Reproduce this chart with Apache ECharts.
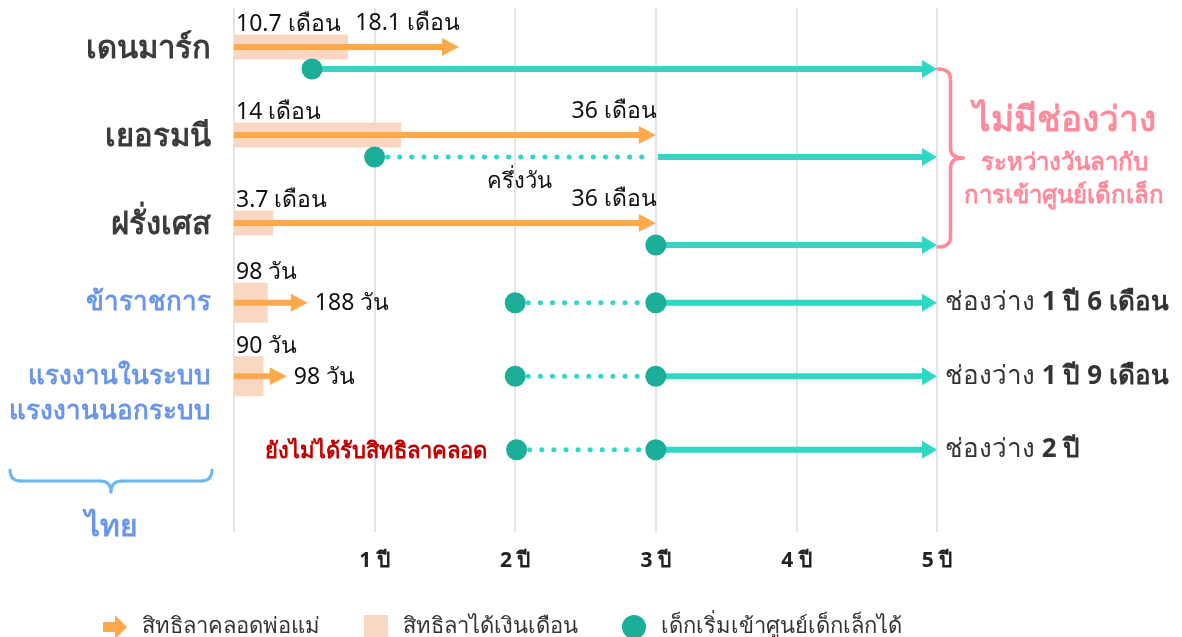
<!DOCTYPE html>
<html><head><meta charset="utf-8">
<script src="https://cdn.jsdelivr.net/npm/echarts@6/dist/echarts.min.js"></script>
<style>html,body{margin:0;padding:0;background:#fff}#c{width:1182px;height:637px}</style>
</head><body><div id="c"></div>
<script>
// ---------- data ----------
const tickUnit = 'ปี';
const endYear = 5;

const countries = ['เดนมาร์ก', 'เยอรมนี', 'ฝรั่งเศส'];
const paidLeave = [0.81, 1.19, 0.28];          // years (paid leave)
const parentalLeave = [1.6, 3, 3];             // years (total parental leave)
const careStart = [0.555, 1, 3];               // child can enter childcare
const fullDayStart = [0.555, 3, 3];            // full-day childcare
const paidLabels = ['10.7 เดือน', '14 เดือน', '3.7 เดือน'];
const leaveLabels = ['18.1 เดือน', '36 เดือน', '36 เดือน'];
const partLabels = ['', 'ครึ่งวัน', ''];

const thaiGroups = ['ข้าราชการ', 'แรงงานในระบบ\nแรงงานนอกระบบ', ''];
const thPaid = [0.24, 0.21, null];
const thLeave = [0.525, 0.375, null];
const thCareStart = [2, 2, 2.01];
const thFullDay = [3, 3, 3.0];
const thPaidLabels = ['98 วัน', '90 วัน', ''];
const thLeaveLabels = ['188 วัน', '98 วัน', ''];
const thNotes = ['', '', 'ยังไม่ได้รับสิทธิลาคลอด'];
const thGaps = ['1 ปี 6 เดือน', '1 ปี 9 เดือน', '2 ปี'];

const nameLeave = 'สิทธิลาคลอดพ่อแม่';
const namePaid = 'สิทธิลาได้เงินเดือน';
const nameCare = 'เด็กเริ่มเข้าศูนย์เด็กเล็กได้';

// ---------- style ----------
const FONT = "'Noto Sans', 'DejaVu Sans', sans-serif";
const C = {leave:'#FFA94D', paid:'#F9D7C3', line:'#2ED8C5', dot:'#1DAE9A', text:'#111', head:'#3B3B3B',
           thai:'#6A96EA', pink:'#FF8A9B', red:'#C00000', brace:'#6DB6F0', grid:'#DCDCDC'};

const groups = [
  {names: countries, paid: paidLeave, leave: parentalLeave, care: careStart, full: fullDayStart,
   paidLbl: paidLabels, leaveLbl: leaveLabels, partLbl: partLabels, notes: [], gaps: [], both: false,
   L: {lane: -11, care: 11, barH: 25, leaveLabel: 'above', rowSize: 31, rowColor: C.head, rowDy: 2}},
  {names: thaiGroups, paid: thPaid, leave: thLeave, care: thCareStart, full: thFullDay,
   paidLbl: thPaidLabels, leaveLbl: thLeaveLabels, partLbl: [], notes: thNotes, gaps: thGaps, both: true,
   L: {lane: 0, care: 0, barH: 40, leaveLabel: 'right', rowSize: 26, rowColor: C.thai, rowDy: 0}}
];

const series = [];
groups.forEach((g, gi) => {
  const L = g.L;
  const idx = g.names.map((_, i) => i);
  // paid leave bars
  series.push({
    type: 'custom', name: namePaid, xAxisIndex: gi, yAxisIndex: gi, itemStyle: {color: C.paid}, silent: true,
    data: idx.filter(i => g.paid[i] != null).map(i => [0, g.paid[i], i]),
    encode: {x: [0, 1], y: 2},
    renderItem: (p, api) => {
      const r = api.value(2);
      const s = api.coord([api.value(0), r]), e = api.coord([api.value(1), r]);
      const y = s[1] + L.lane;
      return {type: 'group', children: [
        {type: 'rect', shape: {x: s[0], y: y - L.barH / 2, width: e[0] - s[0], height: L.barH}, style: {fill: C.paid}},
        {type: 'text', x: s[0] + 2, y: y - L.barH / 2 - 10,
         style: {text: g.paidLbl[r], fontSize: 23, fontFamily: FONT, fill: C.text, align: 'left', verticalAlign: 'middle'}}
      ]};
    }
  });
  // parental leave arrows
  series.push({
    type: 'custom', name: nameLeave, xAxisIndex: gi, yAxisIndex: gi, itemStyle: {color: C.leave}, silent: true,
    data: idx.filter(i => g.leave[i] != null).map(i => [0, g.leave[i], i]),
    encode: {x: [0, 1], y: 2},
    renderItem: (p, api) => {
      const r = api.value(2);
      const s = api.coord([api.value(0), r]), e = api.coord([api.value(1), r]);
      const y = s[1] + L.lane, hl = 17, hw = 18;
      const lab = L.leaveLabel === 'above'
        ? {x: e[0] + 1, y: y - 24, align: 'right'}
        : {x: e[0] + 7, y: y + 1, align: 'left'};
      return {type: 'group', children: [
        {type: 'line', shape: {x1: s[0], y1: y, x2: e[0] - hl + 1, y2: y}, style: {stroke: C.leave, lineWidth: 6}},
        {type: 'polygon', shape: {points: [[e[0] - hl, y - hw / 2], [e[0], y], [e[0] - hl, y + hw / 2]]}, style: {fill: C.leave}},
        {type: 'text', x: lab.x, y: lab.y,
         style: {text: g.leaveLbl[r], fontSize: 23, fontFamily: FONT, fill: C.text, align: lab.align, verticalAlign: 'middle'}}
      ]};
    }
  });
  // childcare lines
  series.push({
    type: 'custom', xAxisIndex: gi, yAxisIndex: gi, silent: true,
    data: idx.map(i => [g.care[i], g.full[i], endYear, i]),
    encode: {x: [0, 1, 2], y: 3},
    renderItem: (p, api) => {
      const r = api.value(3);
      const a = api.coord([api.value(0), r]), b = api.coord([api.value(1), r]), c = api.coord([api.value(2), r]);
      const y = a[1] + L.care;
      const ch = [];
      if (b[0] - a[0] > 2) {
        ch.push({type: 'line', shape: {x1: a[0] + 13, y1: y, x2: b[0] - 6, y2: y},
                 style: {stroke: C.line, lineWidth: 5, lineCap: 'round', lineDash: [0.1, 12]}});
      }
      ch.push({type: 'line', shape: {x1: b[0] + 2, y1: y, x2: c[0] - 13, y2: y}, style: {stroke: C.line, lineWidth: 6}});
      ch.push({type: 'polygon', shape: {points: [[c[0] - 15, y - 9], [c[0], y], [c[0] - 15, y + 9]]}, style: {fill: C.line}});
      if (g.partLbl[r]) {
        ch.push({type: 'text', x: (a[0] + b[0]) / 2 + 4, y: y + 25,
                 style: {text: g.partLbl[r], fontSize: 22, fontFamily: FONT, fill: C.text, align: 'center', verticalAlign: 'middle'}});
      }
      if (g.gaps[r]) {
        ch.push({type: 'text', x: c[0] + 8, y: y,
                 style: {text: '{a|ช่องว่าง }{b|' + g.gaps[r] + '}', align: 'left', verticalAlign: 'middle',
                         rich: {a: {fontSize: 26, fontFamily: FONT, fill: '#333', fontWeight: 'normal'},
                                b: {fontSize: 26, fontFamily: FONT, fill: '#333', fontWeight: 'bold'}}}});
      }
      if (g.notes[r]) {
        ch.push({type: 'text', x: a[0] - 30, y: y + 2,
                 style: {text: g.notes[r], fontSize: 22, fontWeight: 'bold', fontFamily: FONT, fill: C.red, align: 'right', verticalAlign: 'middle'}});
      }
      return {type: 'group', children: ch};
    }
  });
  // childcare start circles
  const pts = [];
  idx.forEach(i => { pts.push([g.care[i], i]); if (g.both) pts.push([g.full[i], i]); });
  series.push({
    type: 'scatter', name: nameCare, xAxisIndex: gi, yAxisIndex: gi, symbol: 'circle', symbolSize: 21,
    symbolOffset: [0, L.care], itemStyle: {color: C.dot, opacity: 1}, silent: true, data: pts, z: 5
  });
  // row labels
  series.push({
    type: 'custom', xAxisIndex: gi, yAxisIndex: gi, silent: true,
    data: idx.filter(i => g.names[i]).map(i => [0, i]),
    encode: {x: 0, y: 1},
    renderItem: (p, api) => {
      const r = api.value(1);
      const q = api.coord([0, r]);
      const lh = L.rowSize + 9;
      return {type: 'text', x: q[0] - 23, y: q[1] + L.lane + L.rowDy - lh / 2,
              style: {text: g.names[r], fontSize: L.rowSize, fontWeight: 'bold', fontFamily: FONT, fill: L.rowColor,
                      align: 'right', verticalAlign: 'top', lineHeight: lh}};
    }
  });
});

const xAxisBase = {type: 'value', min: 0, max: endYear, interval: 1,
  axisLine: {show: false}, axisTick: {show: false},
  splitLine: {show: true, lineStyle: {color: C.grid, width: 1.5}}};

const option = {
  animation: false,
  backgroundColor: '#fff',
  textStyle: {fontFamily: FONT},
  grid: [
    {left: 234, right: 245, top: 8, height: 257},
    {left: 234, right: 245, top: 265, height: 267}
  ],
  xAxis: [
    Object.assign({}, xAxisBase, {gridIndex: 0, axisLabel: {show: false}}),
    Object.assign({}, xAxisBase, {gridIndex: 1, axisLabel: {show: true, margin: 19, fontSize: 21, fontWeight: 'bold', color: '#222',
      fontFamily: FONT, formatter: v => v === 0 ? '' : v + ' ' + tickUnit}})
  ],
  yAxis: [
    {type: 'value', gridIndex: 0, inverse: true, min: -0.568, max: 2.352, show: false},
    {type: 'value', gridIndex: 1, inverse: true, min: -0.514, max: 3.119, show: false}
  ],
  legend: {
    left: 98, top: 610, itemWidth: 24, itemHeight: 24, itemGap: 44, selectedMode: false,
    textStyle: {fontSize: 22, color: '#333', fontFamily: FONT, padding: [0, 0, 0, 10]},
    data: [
      {name: nameLeave, icon: 'path://M0,7 L12,7 L12,0 L24,12 L12,24 L12,17 L0,17 Z'},
      {name: namePaid, icon: 'rect'},
      {name: nameCare, icon: 'circle'}
    ]
  },
  series: series
};

const chart = echarts.init(document.getElementById('c'), null, {renderer: 'canvas'});
chart.setOption(option);

// ---------- annotations ----------
function seg(x1, y1, x2, y2, color, w) {
  return {type: 'line', silent: true, shape: {x1, y1, x2, y2}, style: {stroke: color, lineWidth: w, lineCap: 'round'}};
}
function quad(x1, y1, cx, cy, x2, y2, color, w) {
  return {type: 'bezierCurve', silent: true, shape: {x1, y1, cpx1: cx, cpy1: cy, x2, y2}, style: {stroke: color, lineWidth: w, fill: null, lineCap: 'round'}};
}
const topP = chart.convertToPixel({gridIndex: 0}, [endYear, 0]);
const botP = chart.convertToPixel({gridIndex: 0}, [endYear, countries.length - 1]);
const x0 = topP[0] + 1, y1 = topP[1] + groups[0].L.care, y2 = botP[1] + groups[0].L.care + 2;
const ym = (y1 + y2) / 2, d = 25, h = d / 2, rr = 10, pc = C.pink, pw = 3.5;
const pinkBrace = [
  quad(x0, y1, x0 + h, y1, x0 + h, y1 + rr, pc, pw),
  seg(x0 + h, y1 + rr, x0 + h, ym - rr, pc, pw),
  quad(x0 + h, ym - rr, x0 + h, ym, x0 + d, ym, pc, pw),
  quad(x0 + d, ym, x0 + h, ym, x0 + h, ym + rr, pc, pw),
  seg(x0 + h, ym + rr, x0 + h, y2 - rr, pc, pw),
  quad(x0 + h, y2 - rr, x0 + h, y2, x0, y2, pc, pw)
];
const bx1 = 10, bx2 = 212, by = 470, bd = 11, bmid = (bx1 + bx2) / 2, bc = C.brace, bw = 3;
const blueBrace = [
  quad(bx1, by, bx1, by + bd, bx1 + bd, by + bd, bc, bw),
  seg(bx1 + bd, by + bd, bmid - bd, by + bd, bc, bw),
  quad(bmid - bd, by + bd, bmid, by + bd, bmid, by + 2 * bd, bc, bw),
  quad(bmid, by + 2 * bd, bmid, by + bd, bmid + bd, by + bd, bc, bw),
  seg(bmid + bd, by + bd, bx2 - bd, by + bd, bc, bw),
  quad(bx2 - bd, by + bd, bx2, by + bd, bx2, by, bc, bw)
];
const tx = 1064;
chart.setOption({
  graphic: pinkBrace.concat(blueBrace).concat([
    {type: 'text', silent: true, x: tx, y: ym - 37, style: {text: 'ไม่มีช่องว่าง', fontSize: 35, fontWeight: 'bold', fontFamily: FONT, fill: C.pink, align: 'center', verticalAlign: 'middle'}},
    {type: 'text', silent: true, x: tx, y: ym + 5, style: {text: 'ระหว่างวันลากับ', fontSize: 24, fontWeight: 'bold', fontFamily: FONT, fill: C.pink, align: 'center', verticalAlign: 'middle'}},
    {type: 'text', silent: true, x: tx, y: ym + 38, style: {text: 'การเข้าศูนย์เด็กเล็ก', fontSize: 24, fontWeight: 'bold', fontFamily: FONT, fill: C.pink, align: 'center', verticalAlign: 'middle'}},
    {type: 'text', silent: true, x: bmid, y: 527, style: {text: 'ไทย', fontSize: 30, fontWeight: 'bold', fontFamily: FONT, fill: C.thai, align: 'center', verticalAlign: 'middle'}}
  ])
});
</script>
</body></html>
